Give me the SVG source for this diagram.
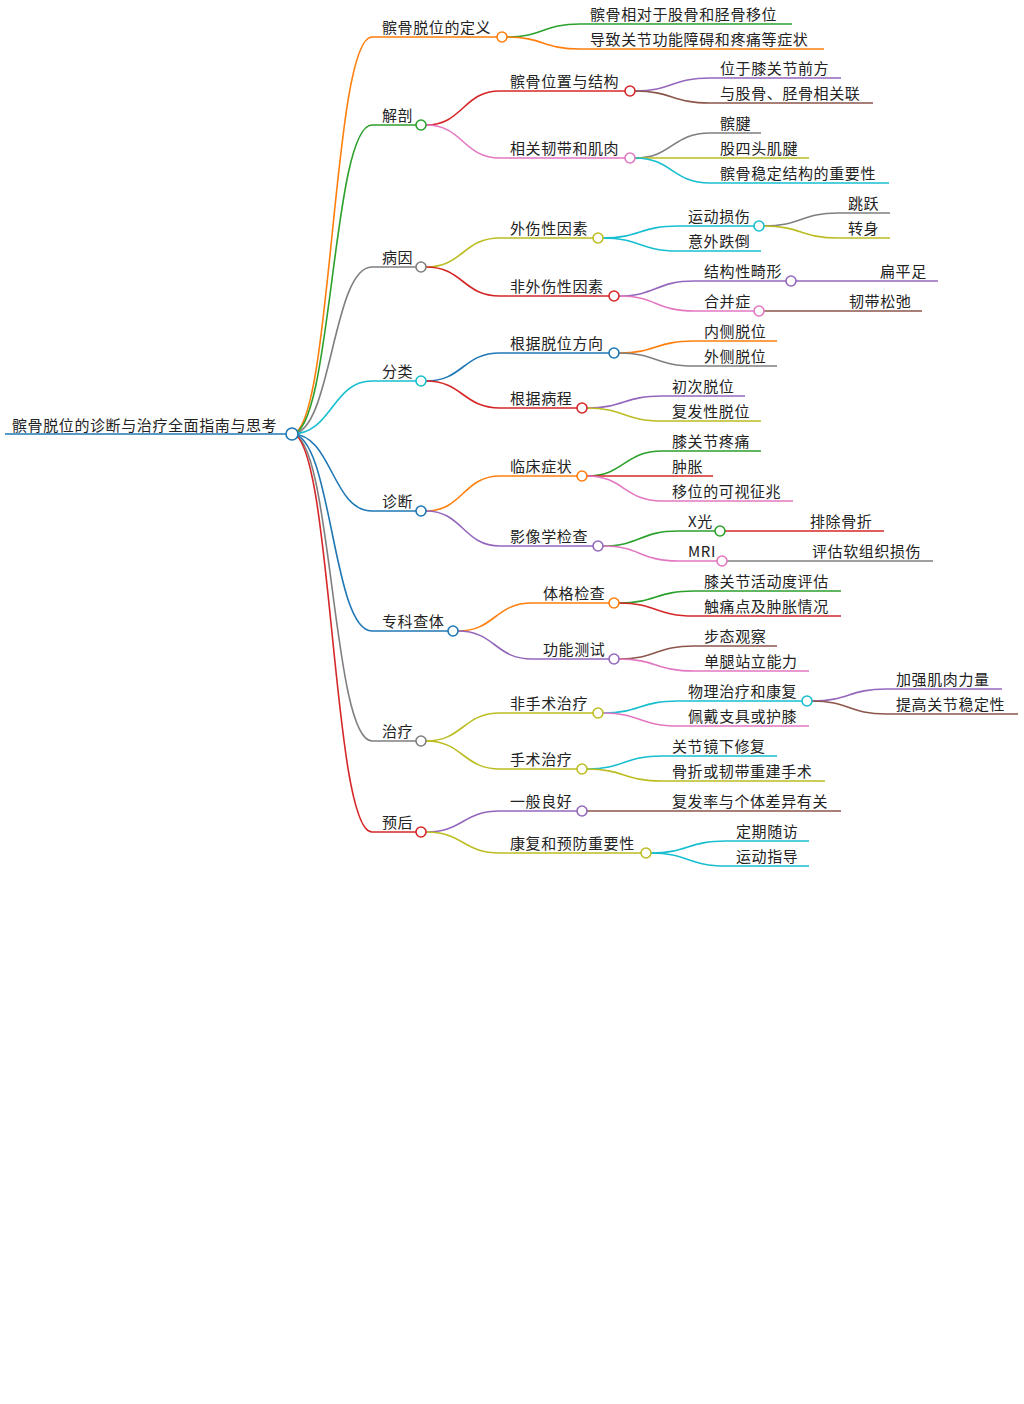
<svg xmlns="http://www.w3.org/2000/svg" width="1024" height="1404" viewBox="0 0 1024 1404">
<style>
text{font-family:"Noto Sans CJK SC","Liberation Sans",sans-serif;font-size:15px;fill:#222;letter-spacing:0.6px}
path{fill:none;stroke-width:1.6}
circle{fill:#fff;stroke-width:1.6}
.o{stroke:#ff7f0e}.g{stroke:#2ca02c}.r{stroke:#d62728}.p{stroke:#9467bd}.b{stroke:#8c564b}.k{stroke:#e377c2}.y{stroke:#7f7f7f}.l{stroke:#bcbd22}.c{stroke:#17becf}.u{stroke:#1f77b4}
</style>
<rect width="1024" height="1404" fill="#fff"/>
<g id="connectors">
<path class="o" d="M292,434 C332,434 332,37 372,37 H497"/>
<path class="g" d="M292,434 C332,434 332,125 372,125 H416"/>
<path class="y" d="M292,434 C332,434 332,267 372,267 H416"/>
<path class="c" d="M292,434 C332,434 332,381 372,381 H416"/>
<path class="u" d="M292,434 C332,434 332,511 372,511 H416"/>
<path class="u" d="M292,434 C332,434 332,631 372,631 H448"/>
<path class="y" d="M292,434 C332,434 332,741 372,741 H416"/>
<path class="r" d="M292,434 C332,434 332,832 372,832 H416"/>
<path class="g" d="M507,37 C543,37 543,24 580,24 H792"/>
<path class="o" d="M507,37 C543,37 543,49 580,49 H824"/>
<path class="r" d="M426,125 C463,125 463,91 500,91 H625"/>
<path class="k" d="M426,125 C463,125 463,158 500,158 H625"/>
<path class="p" d="M635,91 C672,91 672,78 710,78 H841"/>
<path class="b" d="M635,91 C672,91 672,103 710,103 H873"/>
<path class="y" d="M635,158 C672,158 672,133 710,133 H761"/>
<path class="l" d="M635,158 C672,158 672,158 710,158 H809"/>
<path class="c" d="M635,158 C672,158 672,183 710,183 H889"/>
<path class="l" d="M426,267 C463,267 463,238 500,238 H593"/>
<path class="r" d="M426,267 C463,267 463,296 500,296 H609"/>
<path class="c" d="M603,238 C640,238 640,226 678,226 H754"/>
<path class="c" d="M603,238 C640,238 640,251 678,251 H761"/>
<path class="y" d="M764,226 C801,226 801,213 838,213 H890"/>
<path class="l" d="M764,226 C801,226 801,238 838,238 H890"/>
<path class="p" d="M619,296 C656,296 656,281 694,281 H786"/>
<path class="k" d="M619,296 C656,296 656,311 694,311 H754"/>
<path class="p" d="M796,281 C833,281 833,281 870,281 H938"/>
<path class="b" d="M764,311 C801,311 801,311 838,311 H922"/>
<path class="u" d="M426,381 C463,381 463,353 500,353 H609"/>
<path class="r" d="M426,381 C463,381 463,408 500,408 H577"/>
<path class="o" d="M619,353 C656,353 656,341 694,341 H777"/>
<path class="y" d="M619,353 C656,353 656,366 694,366 H777"/>
<path class="p" d="M587,408 C624,408 624,396 662,396 H745"/>
<path class="l" d="M587,408 C624,408 624,421 662,421 H761"/>
<path class="o" d="M426,511 C463,511 463,476 500,476 H577"/>
<path class="p" d="M426,511 C463,511 463,546 500,546 H593"/>
<path class="g" d="M587,476 C624,476 624,451 662,451 H761"/>
<path class="r" d="M587,476 C624,476 624,476 662,476 H713"/>
<path class="k" d="M587,476 C624,476 624,501 662,501 H793"/>
<path class="g" d="M603,546 C640,546 640,531 678,531 H715"/>
<path class="k" d="M603,546 C640,546 640,561 678,561 H717"/>
<path class="r" d="M725,531 C762,531 762,531 800,531 H884"/>
<path class="y" d="M727,561 C763,561 763,561 800,561 H933"/>
<path class="o" d="M458,631 C495,631 495,603 532,603 H609"/>
<path class="p" d="M458,631 C495,631 495,659 532,659 H609"/>
<path class="g" d="M619,603 C656,603 656,591 694,591 H841"/>
<path class="r" d="M619,603 C656,603 656,616 694,616 H841"/>
<path class="b" d="M619,659 C656,659 656,646 694,646 H777"/>
<path class="k" d="M619,659 C656,659 656,671 694,671 H809"/>
<path class="l" d="M426,741 C463,741 463,713 500,713 H593"/>
<path class="l" d="M426,741 C463,741 463,769 500,769 H577"/>
<path class="c" d="M603,713 C640,713 640,701 678,701 H802"/>
<path class="k" d="M603,713 C640,713 640,726 678,726 H809"/>
<path class="p" d="M812,701 C849,701 849,689 886,689 H1002"/>
<path class="b" d="M812,701 C849,701 849,714 886,714 H1018"/>
<path class="c" d="M587,769 C624,769 624,756 662,756 H777"/>
<path class="l" d="M587,769 C624,769 624,781 662,781 H825"/>
<path class="p" d="M426,832 C463,832 463,811 500,811 H577"/>
<path class="l" d="M426,832 C463,832 463,853 500,853 H641"/>
<path class="b" d="M587,811 C624,811 624,811 662,811 H841"/>
<path class="c" d="M651,853 C688,853 688,841 726,841 H809"/>
<path class="c" d="M651,853 C688,853 688,866 726,866 H809"/>
</g>
<g id="root"><path d="M5,434 H287" stroke="#1f77b4" stroke-width="4"/><circle class="u" cx="292" cy="434" r="6"/><text x="12" y="431">髌骨脱位的诊断与治疗全面指南与思考</text></g>
<g id="n1"><text x="382" y="33">髌骨脱位的定义</text><circle class="o" cx="502" cy="37" r="5"/></g>
<g id="n2"><text x="382" y="121">解剖</text><circle class="g" cx="421" cy="125" r="5"/></g>
<g id="n3"><text x="382" y="263">病因</text><circle class="y" cx="421" cy="267" r="5"/></g>
<g id="n4"><text x="382" y="377">分类</text><circle class="c" cx="421" cy="381" r="5"/></g>
<g id="n5"><text x="382" y="507">诊断</text><circle class="u" cx="421" cy="511" r="5"/></g>
<g id="n6"><text x="382" y="627">专科查体</text><circle class="u" cx="453" cy="631" r="5"/></g>
<g id="n7"><text x="382" y="737">治疗</text><circle class="y" cx="421" cy="741" r="5"/></g>
<g id="n8"><text x="382" y="828">预后</text><circle class="r" cx="421" cy="832" r="5"/></g>
<g id="n1a"><text x="590" y="20">髌骨相对于股骨和胫骨移位</text></g>
<g id="n1b"><text x="590" y="45">导致关节功能障碍和疼痛等症状</text></g>
<g id="n2a"><text x="510" y="87">髌骨位置与结构</text><circle class="r" cx="630" cy="91" r="5"/></g>
<g id="n2b"><text x="510" y="154">相关韧带和肌肉</text><circle class="k" cx="630" cy="158" r="5"/></g>
<g id="n2a1"><text x="720" y="74">位于膝关节前方</text></g>
<g id="n2a2"><text x="720" y="99">与股骨、胫骨相关联</text></g>
<g id="n2b1"><text x="720" y="129">髌腱</text></g>
<g id="n2b2"><text x="720" y="154">股四头肌腱</text></g>
<g id="n2b3"><text x="720" y="179">髌骨稳定结构的重要性</text></g>
<g id="n3a"><text x="510" y="234">外伤性因素</text><circle class="l" cx="598" cy="238" r="5"/></g>
<g id="n3b"><text x="510" y="292">非外伤性因素</text><circle class="r" cx="614" cy="296" r="5"/></g>
<g id="n3a1"><text x="688" y="222">运动损伤</text><circle class="c" cx="759" cy="226" r="5"/></g>
<g id="n3a2"><text x="688" y="247">意外跌倒</text></g>
<g id="n3a1a"><text x="848" y="209">跳跃</text></g>
<g id="n3a1b"><text x="848" y="234">转身</text></g>
<g id="n3b1"><text x="704" y="277">结构性畸形</text><circle class="p" cx="791" cy="281" r="5"/></g>
<g id="n3b2"><text x="704" y="307">合并症</text><circle class="k" cx="759" cy="311" r="5"/></g>
<g id="n3b1a"><text x="880" y="277">扁平足</text></g>
<g id="n3b2a"><text x="849" y="307">韧带松弛</text></g>
<g id="n4a"><text x="510" y="349">根据脱位方向</text><circle class="u" cx="614" cy="353" r="5"/></g>
<g id="n4b"><text x="510" y="404">根据病程</text><circle class="r" cx="582" cy="408" r="5"/></g>
<g id="n4a1"><text x="704" y="337">内侧脱位</text></g>
<g id="n4a2"><text x="704" y="362">外侧脱位</text></g>
<g id="n4b1"><text x="672" y="392">初次脱位</text></g>
<g id="n4b2"><text x="672" y="417">复发性脱位</text></g>
<g id="n5a"><text x="510" y="472">临床症状</text><circle class="o" cx="582" cy="476" r="5"/></g>
<g id="n5b"><text x="510" y="542">影像学检查</text><circle class="p" cx="598" cy="546" r="5"/></g>
<g id="n5a1"><text x="672" y="447">膝关节疼痛</text></g>
<g id="n5a2"><text x="672" y="472">肿胀</text></g>
<g id="n5a3"><text x="672" y="497">移位的可视征兆</text></g>
<g id="n5b1"><text x="688" y="527">X光</text><circle class="g" cx="720" cy="531" r="5"/></g>
<g id="n5b2"><text x="688" y="557">MRI</text><circle class="k" cx="722" cy="561" r="5"/></g>
<g id="n5b1a"><text x="810" y="527">排除骨折</text></g>
<g id="n5b2a"><text x="812" y="557">评估软组织损伤</text></g>
<g id="n6a"><text x="543" y="599">体格检查</text><circle class="o" cx="614" cy="603" r="5"/></g>
<g id="n6b"><text x="543" y="655">功能测试</text><circle class="p" cx="614" cy="659" r="5"/></g>
<g id="n6a1"><text x="704" y="587">膝关节活动度评估</text></g>
<g id="n6a2"><text x="704" y="612">触痛点及肿胀情况</text></g>
<g id="n6b1"><text x="704" y="642">步态观察</text></g>
<g id="n6b2"><text x="704" y="667">单腿站立能力</text></g>
<g id="n7a"><text x="510" y="709">非手术治疗</text><circle class="l" cx="598" cy="713" r="5"/></g>
<g id="n7b"><text x="510" y="765">手术治疗</text><circle class="l" cx="582" cy="769" r="5"/></g>
<g id="n7a1"><text x="688" y="697">物理治疗和康复</text><circle class="c" cx="807" cy="701" r="5"/></g>
<g id="n7a2"><text x="688" y="722">佩戴支具或护膝</text></g>
<g id="n7a1a"><text x="896" y="685">加强肌肉力量</text></g>
<g id="n7a1b"><text x="896" y="710">提高关节稳定性</text></g>
<g id="n7b1"><text x="672" y="752">关节镜下修复</text></g>
<g id="n7b2"><text x="672" y="777">骨折或韧带重建手术</text></g>
<g id="n8a"><text x="510" y="807">一般良好</text><circle class="p" cx="582" cy="811" r="5"/></g>
<g id="n8b"><text x="510" y="849">康复和预防重要性</text><circle class="l" cx="646" cy="853" r="5"/></g>
<g id="n8a1"><text x="672" y="807">复发率与个体差异有关</text></g>
<g id="n8b1"><text x="736" y="837">定期随访</text></g>
<g id="n8b2"><text x="736" y="862">运动指导</text></g>
</svg>
